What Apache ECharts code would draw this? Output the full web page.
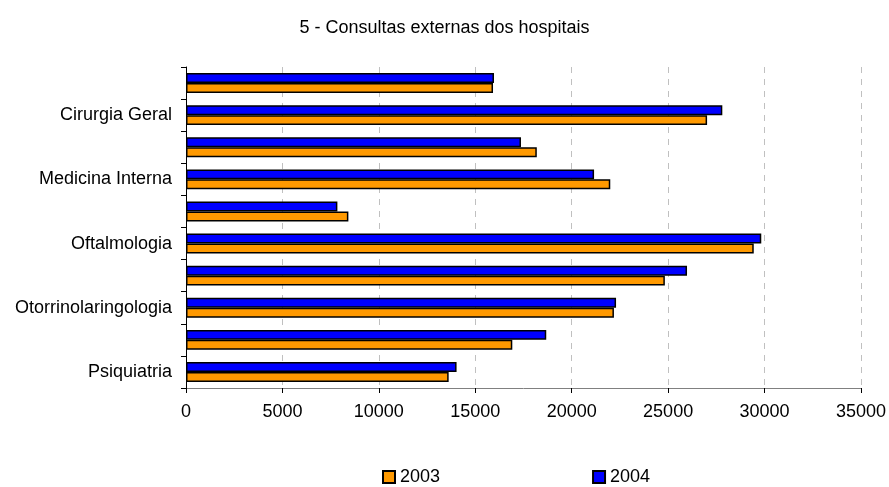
<!DOCTYPE html>
<html>
<head>
<meta charset="utf-8">
<title>Consultas externas dos hospitais</title>
<script src="https://cdn.jsdelivr.net/npm/echarts@6/dist/echarts.min.js"></script>
<style>
    html, body { margin: 0; padding: 0; background: #fff; }
    #chart_box { width: 889px; height: 487px; }
</style>
</head>
<body>
<div id="chart_box"></div>
<script>
// dados
var categorias = ['Cardiologia', 'Cirurgia Geral', 'Ginecologia', 'Medicina Interna', 'Obstetrícia',
    'Oftalmologia', 'Ortopedia', 'Otorrinolaringologia', 'Pediatria', 'Psiquiatria'];
var anos = ['2003', '2004'];
var valores2003 = [15920, 27020, 18190, 22000, 8420, 29440, 24830, 22190, 16920, 13620];
var valores2004 = [15970, 27810, 17370, 21160, 7850, 29830, 25980, 22300, 18680, 14030];

(function() {
    var fonte = '"Liberation Sans", Arial, sans-serif';
    var myChart = echarts.init(document.getElementById('chart_box'));

    myChart.setOption({
        color: ['#ff9900', '#0000ff'],
        animation: false,
        title: {
            text: '5 - Consultas externas dos hospitais',
            left: 'center',
            top: 14,
            textStyle: {
                color: '#000',
                fontWeight: 'normal',
                fontSize: 18,
                fontFamily: fonte
            }
        },
        legend: {
            data: anos,
            left: 377,
            top: 463,
            itemWidth: 12,
            itemHeight: 12,
            itemGap: 152,
            itemTextGap: 4,
            icon: 'rect',
            textStyle: {
                color: '#000',
                fontSize: 18,
                fontFamily: fonte
            }
        },
        grid: {
            left: 186,
            right: 25,
            top: 67,
            bottom: 99,
            containLabel: false
        },
        xAxis: {
            type: 'value',
            min: 0,
            max: 35000,
            interval: 5000,
            axisLine: {
                show: true,
                lineStyle: { color: '#808080', width: 1 }
            },
            axisTick: {
                show: true,
                length: 5,
                lineStyle: { color: '#000' }
            },
            axisLabel: {
                color: '#000',
                fontSize: 18,
                fontFamily: fonte,
                margin: 15,
                formatter: function(v) {
                    return String(v);
                }
            },
            splitLine: {
                show: true,
                lineStyle: { color: '#c0c0c0', type: [6, 6] }
            }
        },
        yAxis: {
            type: 'category',
            data: categorias,
            inverse: true,
            axisLine: {
                show: true,
                lineStyle: { color: '#000', width: 1 }
            },
            axisTick: {
                show: true,
                interval: 0,
                length: 5,
                lineStyle: { color: '#000' }
            },
            axisLabel: {
                color: '#000',
                fontSize: 18,
                fontFamily: fonte,
                margin: 14,
                interval: function(index) {
                    return index % 2 === 1;
                }
            }
        },
        series: [{
            name: '2004',
            type: 'bar',
            data: valores2004,
            barGap: '0%',
            barCategoryGap: '38%',
            itemStyle: { color: '#0000ff', borderColor: '#000', borderWidth: 1.5 }
        }, {
            name: '2003',
            type: 'bar',
            data: valores2003,
            itemStyle: { color: '#ff9900', borderColor: '#000', borderWidth: 1.5 }
        }]
    });
})();
</script>
</body>
</html>
